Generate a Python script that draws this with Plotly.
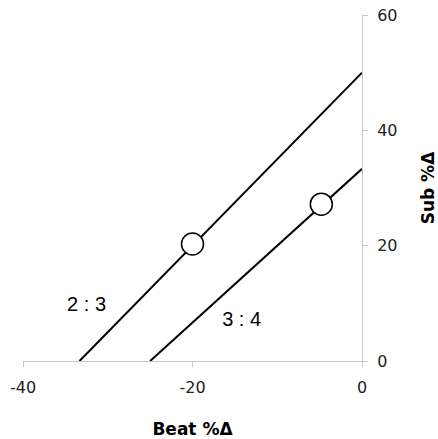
import plotly.graph_objects as go

# Data
line23_x = [-33.33, 0]
line23_y = [0, 50]
line34_x = [-25, 0]
line34_y = [0, 33.33]
points_x = [-20, -4.8]
points_y = [20.3, 27.2]
labels = ["2 : 3", "3 : 4"]
label_x = [-32.5, -14.2]
label_y = [9.5, 7.0]
x_ticks = [-40, -20, 0]
x_ticktext = ["-40", "-20", "0"]
y_ticks = [0, 20, 40, 60]

fig = go.Figure()
fig.add_trace(go.Scatter(x=line23_x, y=line23_y, mode="lines",
                         line=dict(color="black", width=2), showlegend=False))
fig.add_trace(go.Scatter(x=line34_x, y=line34_y, mode="lines",
                         line=dict(color="black", width=2), showlegend=False))
fig.add_trace(go.Scatter(x=points_x, y=points_y, mode="markers",
                         marker=dict(size=22, color="white",
                                     line=dict(color="black", width=1.5)),
                         showlegend=False))
fig.add_trace(go.Scatter(x=label_x, y=label_y, mode="text", text=labels,
                         textfont=dict(family="Liberation Sans, Arial", size=20, color="black"),
                         showlegend=False))

fig.update_layout(
    width=438, height=439,
    margin=dict(l=23, r=76, t=15, b=78, autoexpand=False),
    plot_bgcolor="white", paper_bgcolor="white",
    font=dict(family="DejaVu Sans, Verdana", size=16, color="#222"),
    xaxis=dict(range=[-40, 0], tickvals=x_ticks, ticktext=x_ticktext,
               showgrid=False, zeroline=False, automargin=False,
               showline=True, linecolor="#c8c8c8", linewidth=1,
               ticks="outside", ticklen=5, tickcolor="#c8c8c8",
               ticklabelstandoff=7,
               title=dict(text="<b>Beat %Δ</b>", font=dict(size=17, color="black"), standoff=26)),
    yaxis=dict(range=[0, 60], tickvals=y_ticks, side="right", showgrid=False, zeroline=False,
               automargin=False,
               showline=True, linecolor="#c8c8c8", linewidth=1,
               ticks="outside", ticklen=5, tickcolor="#c8c8c8",
               ticklabelstandoff=6,
               title=dict(text="<b>Sub %Δ</b>", font=dict(size=17, color="black"), standoff=27)),
)
fig.write_html("out.html", config={"displayModeBar": False},
               post_script="document.body.style.margin='0';")
